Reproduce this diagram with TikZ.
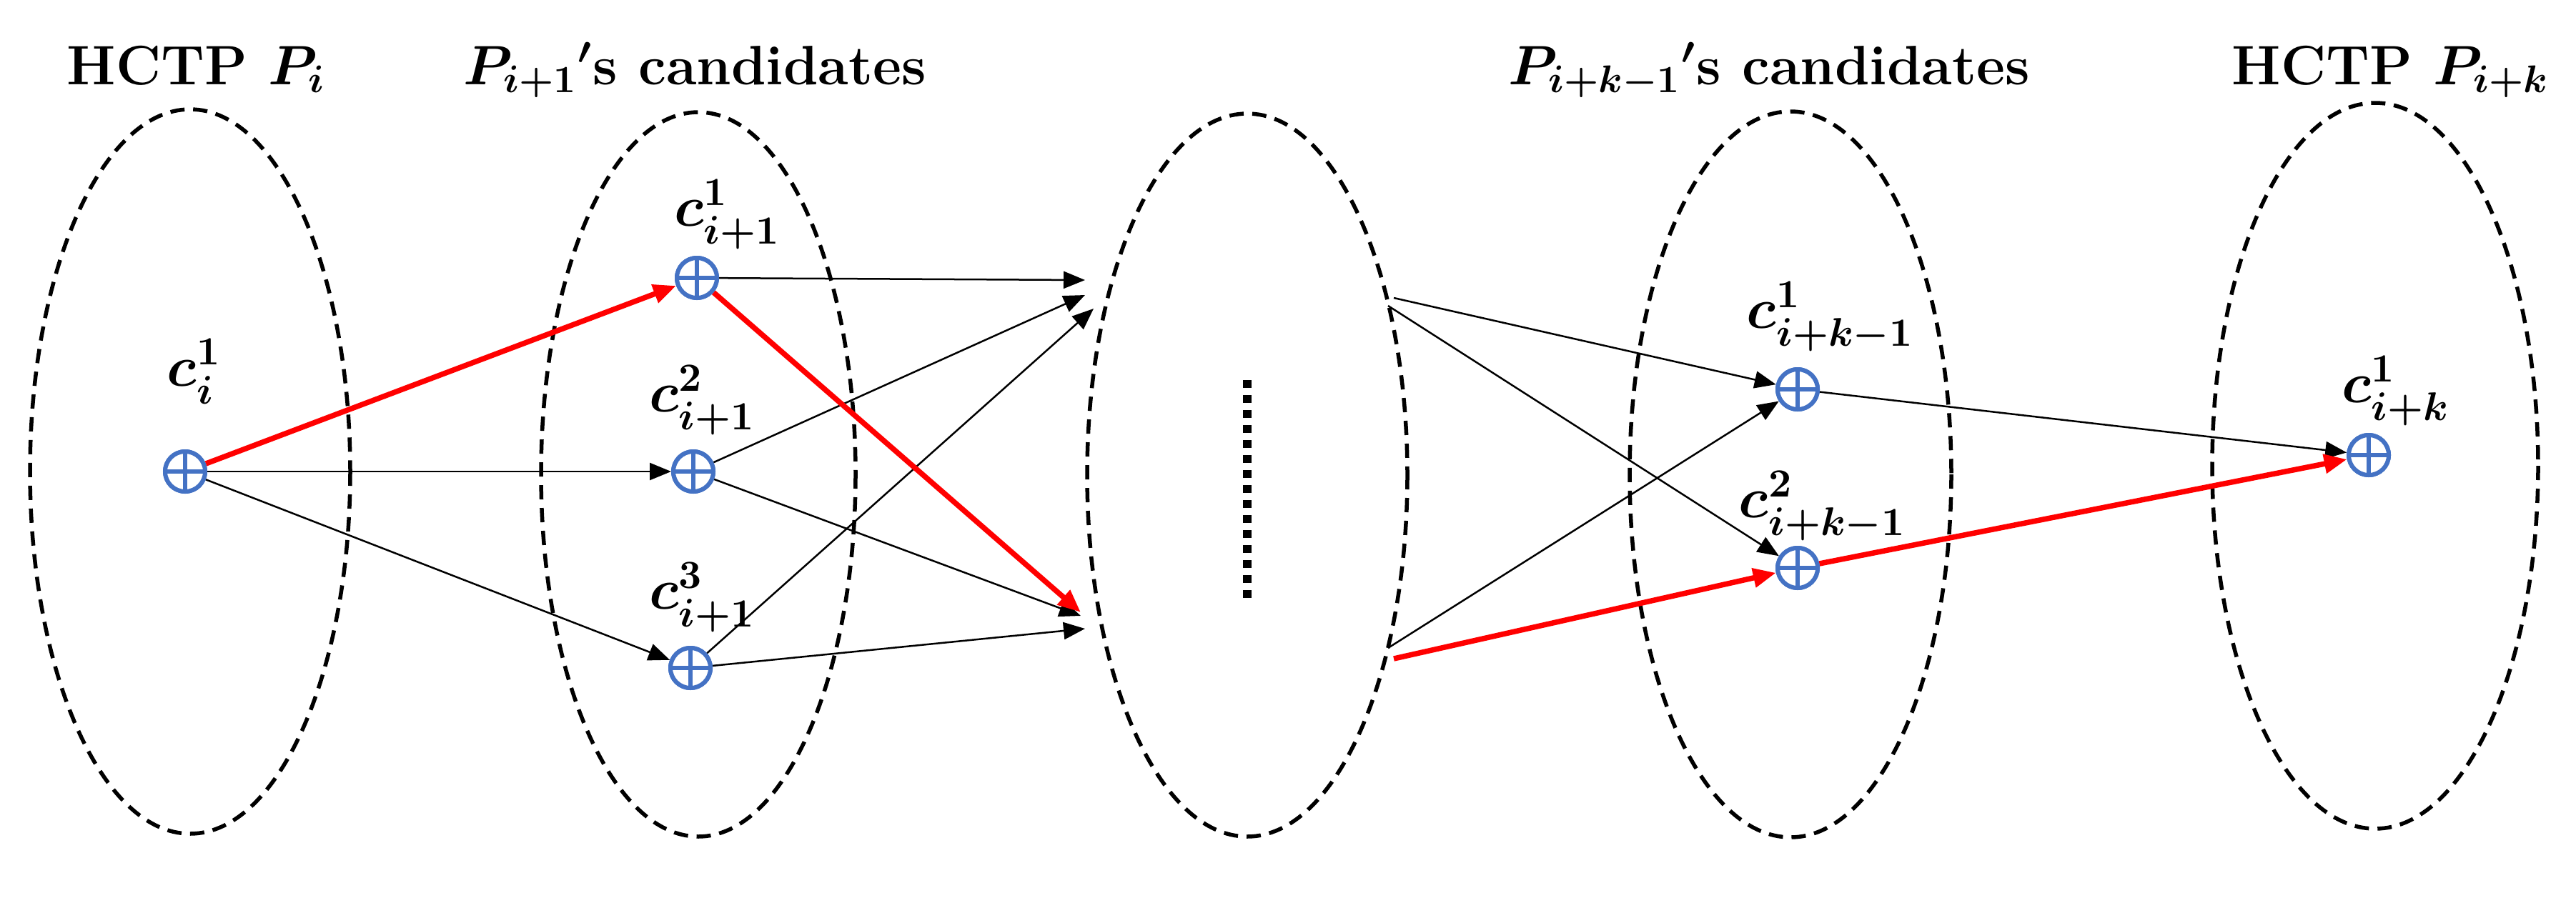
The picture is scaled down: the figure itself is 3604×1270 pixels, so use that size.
\documentclass[tikz,border=0pt]{standalone}
\usepackage{amsmath}
\usepackage{graphicx}
\usetikzlibrary{arrows.meta}
\definecolor{nodeblue}{RGB}{68,114,196}
\definecolor{pathred}{RGB}{255,0,0}
\newcommand{\mylab}[1]{\scalebox{5.6}{\Large\boldmath$#1$}}
\newcommand{\myttl}[1]{\scalebox{5.4}{\Large\bfseries\boldmath #1}}
\begin{document}
\begin{tikzpicture}[x=1pt,y=-1pt,
  grp/.style={draw,line width=5.5pt,dash pattern=on 20pt off 12pt},
  cand/.style={circle,draw=nodeblue,line width=6pt,minimum size=56pt,inner sep=0pt,
    path picture={\draw[nodeblue,line width=6pt] (path picture bounding box.north)--(path picture bounding box.south) (path picture bounding box.west)--(path picture bounding box.east);}},
  lab/.style={inner sep=0pt},
  ttl/.style={inner sep=0pt,anchor=base},
  thin/.style={line width=2.5pt,-{Triangle[length=30pt,width=24pt]}},
  red/.style={pathred,line width=7.5pt,-{Triangle[length=32pt,width=26pt]}}]
\useasboundingbox (0,0) rectangle (3604,1270);
% groups
\draw[grp] (266,660) ellipse [x radius=224,y radius=507];
\draw[grp] (977,664) ellipse [x radius=220,y radius=507];
\draw[grp] (1745,665) ellipse [x radius=224,y radius=506];
\draw[grp] (2505,664) ellipse [x radius=225,y radius=508];
\draw[grp] (3323,652) ellipse [x radius=228,y radius=508];
% titles
\node[ttl] (t1) at (275,118) {\myttl{HCTP $P_i$}};
\node[ttl,anchor=base west] (t2) at (648,118) {\myttl{$P_{i+1}{}'$s candidates}};
\node[ttl,anchor=base west] (t3) at (2110,118) {\myttl{$P_{i+k-1}{}'$s candidates}};
\node[ttl] (t4) at (3345,118) {\myttl{HCTP $P_{i+k}$}};
% candidate nodes
\node[cand] (a) at (259,660) {};
\node[cand] (b1) at (975,389) {};
\node[cand] (b2) at (970,660) {};
\node[cand] (b3) at (966,935) {};
\node[cand] (d1) at (2515,545) {};
\node[cand] (d2) at (2515,795) {};
\node[cand] (e) at (3314,637) {};
% labels
\node[lab] (la) at (272,520) {\mylab{c_i^1}};
\node[lab] (lb1) at (1018,300) {\mylab{c_{i+1}^1}};
\node[lab] (lb2) at (983,560) {\mylab{c_{i+1}^2}};
\node[lab] (lb3) at (983,836) {\mylab{c_{i+1}^3}};
\node[lab] (ld1) at (2561,443) {\mylab{c_{i+k-1}^1}};
\node[lab] (ld2) at (2550,708) {\mylab{c_{i+k-1}^2}};
\node[lab] (le) at (3352,547) {\mylab{c_{i+k}^1}};
% middle dots
\draw[line width=12pt,dash pattern=on 11pt off 10pt] (1745,532) -- (1745,842);
% coordinates on middle group
\coordinate (m1) at (1518,392);
\coordinate (m2) at (1518,413);
\coordinate (m3) at (1530,432);
\coordinate (n1) at (1512,857);
\coordinate (n2) at (1512,862);
\coordinate (n3) at (1518,880);
\coordinate (r1) at (1950,417);
\coordinate (r2) at (1942,428);
\coordinate (r3) at (1942,907);
\coordinate (r4) at (1950,922);
% thin arrows
\draw[thin] (a) -- (b2);
\draw[thin] (a) -- (b3);
\draw[thin] (b1) -- (m1);
\draw[thin] (b2) -- (m2);
\draw[thin] (b3) -- (m3);
\draw[thin] (b2) -- (n2);
\draw[thin] (b3) -- (n3);
\draw[thin] (r1) -- (d1);
\draw[thin] (r2) -- (d2);
\draw[thin] (r3) -- (d1);
\draw[thin] (d1) -- (e);
% red path
\draw[red] (a) -- (b1);
\draw[red] (b1) -- (n1);
\draw[red] (r4) -- (d2);
\draw[red] (d2) -- (e);
% redraw nodes on top
\foreach \n in {a,b1,b2,b3,d1,d2,e} \node[cand,fill=white] at (\n) {};
\end{tikzpicture}
\end{document}
